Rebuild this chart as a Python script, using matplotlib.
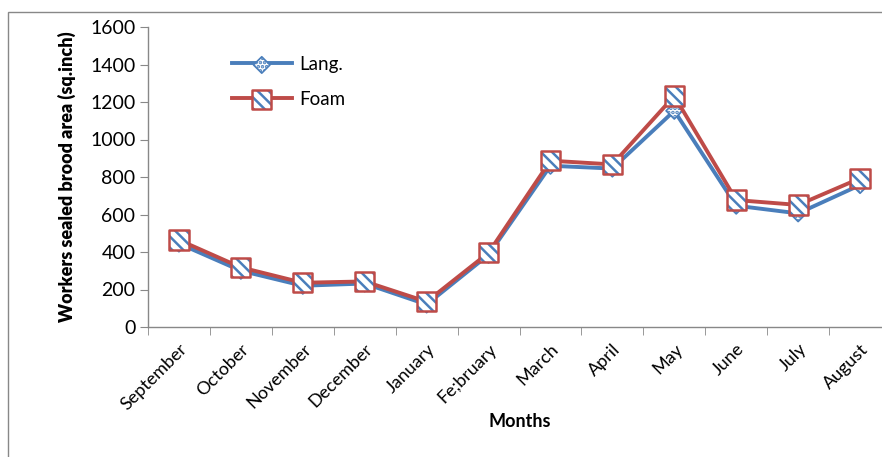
import matplotlib.pyplot as plt
import matplotlib.patches as mpatches
from matplotlib.legend_handler import HandlerTuple
import numpy as np

months = ['September', 'October', 'November', 'December', 'January', 'Fe;bruary',
          'March', 'April', 'May', 'June', 'July', 'August']
lang = [445, 300, 220, 232, 120, 385, 860, 845, 1153, 647, 606, 757]
foam = [464, 318, 236, 243, 135, 396, 887, 867, 1232, 677, 651, 793]

blue = '#4a7ebb'
red = '#be4b48'

plt.rcParams['font.family'] = ['Lato', 'DejaVu Sans']
plt.rcParams['hatch.linewidth'] = 1.8

fig = plt.figure(figsize=(8.82, 4.57), dpi=100)
ax = fig.add_axes([148/882, 130/457, 743/882, 300/457])

x = np.arange(len(months))

# Lang.
l1, = ax.plot(x, lang, color=blue, lw=2.8, zorder=2)
s1 = ax.scatter(x, lang, marker='D', s=70, facecolor='white', edgecolor=blue,
                linewidth=1.2, hatch='....', zorder=3)
# Foam: blue hatch inside, red square border on top
l2, = ax.plot(x, foam, color=red, lw=2.8, zorder=4)
h2 = ax.scatter(x, foam, marker='s', s=190, facecolor='white', edgecolor=blue,
                linewidth=0, hatch='\\\\\\', zorder=5)
s2 = ax.scatter(x, foam, marker='s', s=190, facecolor='none', edgecolor=red,
                linewidth=1.8, zorder=6)

ax.set_xlim(-0.5, len(months) - 0.5)
ax.set_ylim(0, 1600)
ax.set_yticks(np.arange(0, 1601, 200))
ax.set_xticks(x)
ax.set_xticklabels(months, rotation=45, ha='right', rotation_mode='anchor', fontsize=13)
ax.set_xticks(np.arange(-0.5, len(months), 1), minor=True)
ax.tick_params(axis='x', which='major', length=0, pad=10)
ax.tick_params(axis='x', which='minor', length=6, color='#888888', direction='out')
ax.tick_params(axis='y', length=6, color='#888888', direction='out', labelsize=14, pad=3)

for side in ['top', 'right']:
    ax.spines[side].set_visible(False)
for side in ['left', 'bottom']:
    ax.spines[side].set_color('#888888')
    ax.spines[side].set_linewidth(1)

ax.set_xlabel('Months', fontsize=13, fontweight='bold', labelpad=0)
ax.set_ylabel('Workers sealed brood area (sq.inch)', fontsize=13, fontweight='heavy', labelpad=10)

ax.legend([(l1, s1), (l2, h2, s2)], ['Lang.', 'Foam'], handler_map={tuple: HandlerTuple(ndivide=1)},
          scatterpoints=1, frameon=False, loc='upper left', bbox_to_anchor=(0.09, 0.96),
          fontsize=13.5, handlelength=3.2, labelspacing=0.95, handletextpad=0.4)

fig.patches.append(mpatches.Rectangle((8/882, -0.1), 1.2, 1.1 - 12/457, transform=fig.transFigure,
                                      fill=False, edgecolor='#888888', lw=1))

fig.savefig('out.png', dpi=100)
